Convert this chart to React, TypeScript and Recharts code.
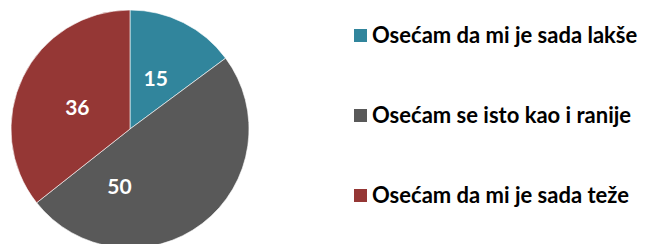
import React from "react";
import { PieChart, Pie, Cell, Legend } from "recharts";

const categories = [
  "Osećam da mi je sada lakše",
  "Osećam se isto kao i ranije",
  "Osećam da mi je sada teže",
];
const values = [15, 50, 36];
const colors = ["#31859C", "#595959", "#953735"];
// label angle nudges (degrees) relative to each slice's mid angle
const labelAngleNudge = [0, -48, 3];

const data = categories.map((name, i) => ({ name, value: values[i] }));

const RAD = Math.PI / 180;
const FONT = "Lato, 'Open Sans', sans-serif";

const renderLabel = (props: any) => {
  const { cx, cy, midAngle, outerRadius, value, index } = props;
  const a = (midAngle + (labelAngleNudge[index] || 0)) * RAD;
  const r = outerRadius * 0.48;
  const x = cx + r * Math.cos(-a);
  const y = cy + r * Math.sin(-a);
  return (
    <text
      x={x}
      y={y}
      fill="#ffffff"
      textAnchor="middle"
      dominantBaseline="central"
      fontFamily={FONT}
      fontWeight={700}
      fontSize={21}
    >
      {value}
    </text>
  );
};

const renderLegend = () => (
  <div style={{ fontFamily: FONT }}>
    {categories.map((c, i) => (
      <div
        key={c}
        style={{
          display: "flex",
          alignItems: "center",
          height: 22,
          marginBottom: i < categories.length - 1 ? 58 : 0,
        }}
      >
        <span
          style={{
            display: "inline-block",
            width: 13,
            height: 13,
            background: colors[i],
            marginRight: 5,
          }}
        />
        <span
          style={{
            fontSize: 22,
            fontWeight: 700,
            color: "#000",
            lineHeight: "22px",
            whiteSpace: "nowrap",
          }}
        >
          {c}
        </span>
      </div>
    ))}
  </div>
);

export default function App() {
  return (
    <PieChart width={638} height={236} margin={{ top: 0, right: 0, bottom: 0, left: 0 }}>
      <Pie
        data={data}
        dataKey="value"
        nameKey="name"
        cx={122}
        cy={121}
        outerRadius={119}
        startAngle={90}
        endAngle={-270}
        stroke="#ffffff"
        strokeWidth={0.6}
        label={renderLabel}
        labelLine={false}
        isAnimationActive={false}
      >
        {data.map((d, i) => (
          <Cell key={d.name} fill={colors[i]} />
        ))}
      </Pie>
      <Legend
        content={renderLegend}
        wrapperStyle={{ position: "absolute", left: 346, top: 16, width: 292 }}
      />
    </PieChart>
  );
}
